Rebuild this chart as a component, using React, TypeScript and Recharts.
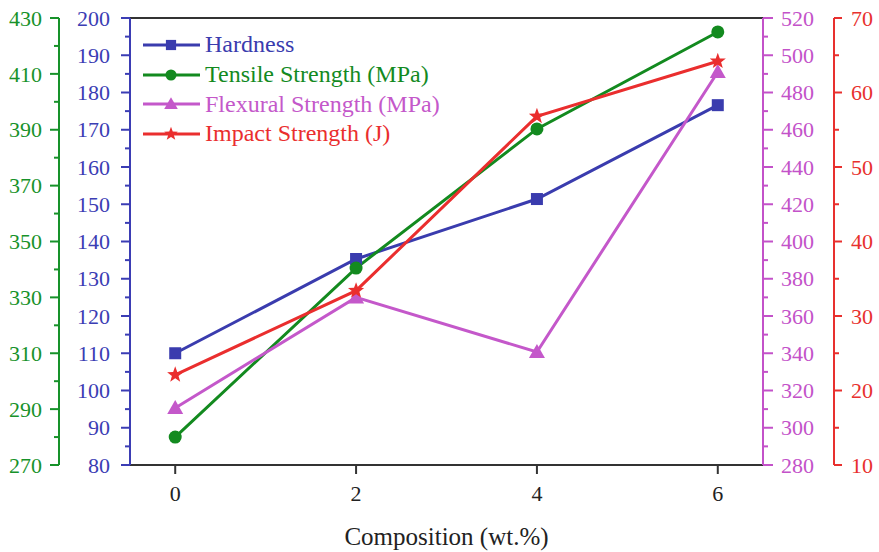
import React from 'react';
import { LineChart, Line, XAxis, YAxis, Legend, ReferenceLine } from 'recharts';

// ---- data ----
const composition = [0, 2, 4, 6];
const hardness = [110, 135.3, 151.4, 176.6];
const tensile = [280, 340.5, 390.3, 425];
const flexural = [310.6, 370, 340.7, 491];
const impact = [22.1, 33.4, 56.8, 64.2];

const xTicks = [0, 2, 4, 6];
const hardnessTicks = [80, 85, 90, 95, 100, 105, 110, 115, 120, 125, 130, 135, 140, 145, 150, 155, 160, 165, 170, 175, 180, 185, 190, 195, 200];
const hardnessLabels = [80, 90, 100, 110, 120, 130, 140, 150, 160, 170, 180, 190, 200];
const tensileTicks = [270, 280, 290, 300, 310, 320, 330, 340, 350, 360, 370, 380, 390, 400, 410, 420, 430];
const tensileLabels = [270, 290, 310, 330, 350, 370, 390, 410, 430];
const flexuralTicks = [280, 290, 300, 310, 320, 330, 340, 350, 360, 370, 380, 390, 400, 410, 420, 430, 440, 450, 460, 470, 480, 490, 500, 510, 520];
const flexuralLabels = [280, 300, 320, 340, 360, 380, 400, 420, 440, 460, 480, 500, 520];
const impactTicks = [10, 15, 20, 25, 30, 35, 40, 45, 50, 55, 60, 65, 70];
const impactLabels = [10, 20, 30, 40, 50, 60, 70];

const seriesNames = ['Hardness', 'Tensile Strength (MPa)', 'Flexural Strength (MPa)', 'Impact Strength (J)'];

const rows = composition.map((c, i) => ({
  x: c,
  hardness: hardness[i],
  tensile: tensile[i],
  flexural: flexural[i],
  impact: impact[i],
}));

// ---- styles ----
const FONT = '"Liberation Serif", "Times New Roman", serif';
const BLUE = '#3b3db4';
const GREEN = '#17922a';
const MAGENTA = '#c352c9';
const RED = '#e8302e';
const BLUE_L = '#3a3cae';
const GREEN_L = '#138a1f';
const MAGENTA_L = '#c458ca';
const RED_L = '#ea2e2e';

function makeTick(side: 'left' | 'right', color: string, labels: number[], offset: number, majorLen: number, minorLen: number, fontSize: number) {
  return (props: any) => {
    const { x, y, payload } = props;
    const v = payload.value;
    const isMajor = labels.indexOf(v) >= 0;
    const axisX = side === 'left' ? x + offset : x - offset;
    const dir = side === 'left' ? -1 : 1;
    const len = isMajor ? majorLen : minorLen;
    return (
      <g>
        <line x1={axisX} y1={y} x2={axisX + dir * len} y2={y} stroke={color} strokeWidth={2} />
        {isMajor && (
          <text x={x} y={y} dy="0.35em" textAnchor={side === 'left' ? 'end' : 'start'} fill={color} fontSize={fontSize} fontFamily={FONT}>
            {v}
          </text>
        )}
      </g>
    );
  };
}

function starPoints(cx: number, cy: number, R: number, r: number) {
  const pts: string[] = [];
  for (let i = 0; i < 10; i++) {
    const a = -Math.PI / 2 + (i * Math.PI) / 5;
    const rad = i % 2 === 0 ? R : r;
    pts.push(`${cx + rad * Math.cos(a)},${cy + rad * Math.sin(a)}`);
  }
  return pts.join(' ');
}

function Marker({ shape, cx, cy, color, s }: { shape: string; cx: number; cy: number; color: string; s: number }) {
  if (shape === 'square') return <rect x={cx - 6 * s} y={cy - 6 * s} width={12 * s} height={12 * s} fill={color} />;
  if (shape === 'circle') return <circle cx={cx} cy={cy} r={6.5 * s} fill={color} />;
  if (shape === 'triangle')
    return <polygon points={`${cx},${cy - 8 * s} ${cx - 8 * s},${cy + 6 * s} ${cx + 8 * s},${cy + 6 * s}`} fill={color} />;
  return <polygon points={starPoints(cx, cy, 8.5 * s, 3.5 * s)} fill={color} />;
}

function makeDot(shape: string, color: string) {
  return (props: any) => {
    const { cx, cy, index } = props;
    if (cx == null || cy == null) return <g key={`d-${shape}-${index}`} />;
    return (
      <g key={`d-${shape}-${index}`}>
        <Marker shape={shape} cx={cx} cy={cy} color={color} s={1} />
      </g>
    );
  };
}

const legendItems = [
  { name: seriesNames[0], color: BLUE_L, shape: 'square' },
  { name: seriesNames[1], color: GREEN_L, shape: 'circle' },
  { name: seriesNames[2], color: MAGENTA_L, shape: 'triangle' },
  { name: seriesNames[3], color: RED_L, shape: 'star' },
];

const renderLegend = () => (
  <div style={{ fontFamily: FONT, fontSize: 24 }}>
    {legendItems.map((it) => (
      <div key={it.name} style={{ display: 'flex', alignItems: 'center', height: 29.7 }}>
        <svg width={57} height={20} style={{ display: 'block' }}>
          <line x1={0} y1={10} x2={57} y2={10} stroke={it.color} strokeWidth={3} />
          <Marker shape={it.shape} cx={28} cy={10} color={it.color} s={0.85} />
        </svg>
        <span style={{ color: it.color, marginLeft: 5, whiteSpace: 'nowrap' }}>{it.name}</span>
      </div>
    ))}
  </div>
);

export default function App() {
  return (
    <div style={{ position: 'absolute', left: 0, top: 0, width: 879, height: 552, background: '#fff' }}>
      <LineChart width={879} height={552} data={rows} margin={{ top: 18, right: 0, bottom: 0, left: 0 }}>
        <XAxis
          dataKey="x"
          type="number"
          domain={[-0.5, 6.5]}
          ticks={xTicks}
          interval={0}
          height={87}
          axisLine={{ stroke: '#333', strokeWidth: 2 }}
          tickLine={{ stroke: '#333', strokeWidth: 2 }}
          tickSize={9}
          tickMargin={11}
          tick={{ fill: '#222', fontSize: 22, fontFamily: FONT }}
          label={{ value: 'Composition (wt.%)', position: 'insideBottom', offset: 7, fill: '#222', fontSize: 25, fontFamily: FONT }}
        />
        <YAxis
          yAxisId="blue"
          orientation="left"
          width={71}
          domain={[80, 200]}
          ticks={hardnessTicks}
          interval={0}
          allowDataOverflow
          axisLine={{ stroke: BLUE, strokeWidth: 2 }}
          tickLine={false}
          tickSize={0}
          tickMargin={20}
          tick={makeTick('left', BLUE, hardnessLabels, 20, 9, 5, 22)}
        />
        <YAxis
          yAxisId="green"
          orientation="left"
          width={59}
          domain={[270, 430]}
          ticks={tensileTicks}
          interval={0}
          allowDataOverflow
          axisLine={{ stroke: GREEN, strokeWidth: 2 }}
          tickLine={false}
          tickSize={0}
          tickMargin={17}
          tick={makeTick('left', GREEN, tensileLabels, 17, 9, 5, 22)}
        />
        <YAxis
          yAxisId="magenta"
          orientation="right"
          width={71}
          domain={[280, 520]}
          ticks={flexuralTicks}
          interval={0}
          allowDataOverflow
          axisLine={{ stroke: MAGENTA, strokeWidth: 2 }}
          tickLine={false}
          tickSize={0}
          tickMargin={18}
          tick={makeTick('right', MAGENTA, flexuralLabels, 18, 10, 5, 22)}
        />
        <YAxis
          yAxisId="red"
          orientation="right"
          width={45}
          domain={[10, 70]}
          ticks={impactTicks}
          interval={0}
          allowDataOverflow
          axisLine={{ stroke: RED, strokeWidth: 2 }}
          tickLine={false}
          tickSize={0}
          tickMargin={17}
          tick={makeTick('right', RED, impactLabels, 17, 8, 5, 22)}
        />
        <ReferenceLine yAxisId="blue" y={200} stroke="#333" strokeWidth={2} ifOverflow="visible" />
        <Legend
          layout="vertical"
          align="center"
          verticalAlign="middle"
          content={renderLegend}
          wrapperStyle={{ left: 143, top: 30, width: 'auto', height: 'auto' }}
        />
        <Line yAxisId="blue" dataKey="hardness" name={seriesNames[0]} stroke={BLUE_L} strokeWidth={3} dot={makeDot('square', BLUE_L)} isAnimationActive={false} />
        <Line yAxisId="green" dataKey="tensile" name={seriesNames[1]} stroke={GREEN_L} strokeWidth={3} dot={makeDot('circle', GREEN_L)} isAnimationActive={false} />
        <Line yAxisId="magenta" dataKey="flexural" name={seriesNames[2]} stroke={MAGENTA_L} strokeWidth={3} dot={makeDot('triangle', MAGENTA_L)} isAnimationActive={false} />
        <Line yAxisId="red" dataKey="impact" name={seriesNames[3]} stroke={RED_L} strokeWidth={3} dot={makeDot('star', RED_L)} isAnimationActive={false} />
      </LineChart>
    </div>
  );
}
